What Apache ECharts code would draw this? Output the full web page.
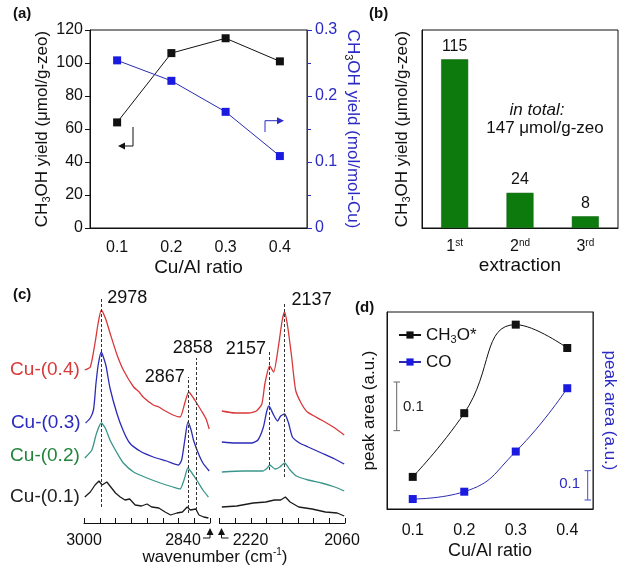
<!DOCTYPE html>
<html>
<head>
<meta charset="utf-8">
<script src="https://cdn.jsdelivr.net/npm/echarts@6/dist/echarts.min.js"></script>
<style>
  html, body { margin: 0; padding: 0; background: #fff; }
  #main { width: 619px; height: 567px; }
</style>
</head>
<body>
<div id="main"></div>
<script>
// (a) yield vs Cu/Al ratio
const ratios = ['0.1', '0.2', '0.3', '0.4'];
const yieldPerGram = [64, 106, 115, 101];        // µmol/g-zeo (left axis)
const yieldPerCu = [0.254, 0.223, 0.176, 0.109]; // mol/mol-Cu (right axis)

// (b) successive extractions
const extractions = ['1st', '2nd', '3rd'];
const extractionYield = [115, 24, 8];

// (c) IR spectra, [wavenumber, absorbance (a.u.)]
const redLeft = [[2999,153],[2992,156],[2986,180],[2982,200],[2978,213],[2972,203],[2967,190],[2958,168],[2950,153],[2937,136],[2930,131],[2925,126],[2912,118],[2905,116],[2899,113],[2887,108],[2878,106],[2872,120],[2867,131],[2861,125],[2857,120],[2850,111],[2845,104],[2841,94]];
const blueLeft = [[2998,100],[2992,105],[2988,113],[2986,128],[2985,138],[2982,158],[2978,171],[2975,165],[2972,157],[2967,135],[2958,109],[2950,92],[2942,80],[2929,72],[2912,66],[2895,62],[2880,58],[2876,63],[2872,83],[2868,101],[2864,93],[2861,83],[2855,70],[2849,60],[2841,52]];
const tealLeft = [[2999,65],[2990,73],[2984,90],[2978,100],[2973,95],[2967,83],[2958,70],[2950,60],[2937,51],[2920,45],[2903,40],[2887,36],[2878,34],[2873,43],[2868,55],[2863,50],[2857,43],[2849,33],[2842,26]];
const blackLeft = [[2999,26],[2992,31],[2986,38],[2981,42],[2977,38],[2971,41],[2966,36],[2960,30],[2954,26],[2948,23],[2942,24],[2935,18],[2927,17],[2920,19],[2914,16],[2905,15],[2897,11],[2890,8],[2882,10],[2875,11],[2869,16],[2865,13],[2858,14],[2854,8],[2848,6],[2842,5]];
const redRight = [[2217,112],[2200,110],[2183,110],[2173,112],[2166,119],[2162,140],[2156,157],[2151,151],[2145,176],[2140,203],[2137,211],[2133,196],[2128,166],[2123,133],[2116,120],[2108,111],[2090,103],[2073,95],[2061,88]];
const blueRight = [[2217,81],[2200,80],[2179,80],[2171,83],[2164,96],[2160,111],[2157,117],[2151,108],[2146,102],[2142,107],[2137,109],[2132,100],[2127,86],[2118,80],[2107,76],[2090,70],[2073,64],[2061,59]];
const tealRight = [[2217,51],[2190,52],[2165,52],[2159,55],[2156,58],[2149,54],[2143,56],[2137,60],[2130,53],[2122,47],[2107,43],[2090,40],[2073,36],[2061,32]];
const blackRight = [[2217,16],[2198,17],[2177,20],[2161,21],[2150,23],[2142,23],[2136,26],[2130,21],[2119,16],[2102,14],[2085,11],[2070,10],[2061,7]];
const sampleNames = ['Cu-(0.4)', 'Cu-(0.3)', 'Cu-(0.2)', 'Cu-(0.1)'];
const peaksLeft = [2978, 2867, 2858];
const peaksRight = [2157, 2137];
const wnTicksLeft = [3000, 2840];
const wnTicksRight = [2220, 2060];

// (d) peak areas
const ch3oArea = [0.066, 0.197, 0.379, 0.331];
const coArea = [0.034, 0.059, 0.196, 0.412];

const FONT = '"Liberation Sans", Arial, sans-serif';
const BLUE = '#2a2ac4';
const colors = ['#d8383a', '#2b2bb8', '#3a968a', '#1c1c1c'];
const labelColors = ['#d83a3a', '#2a2ac0', '#23843c', '#222'];
const sub = { s: { fontSize: 11, verticalAlign: 'bottom', lineHeight: 20, padding: [0, 0, 0, 0] } };

// spectra panel boxes
const cGrids = [{ left: 84, width: 126, min: 2840, max: 3000 }, { left: 219.5, width: 125.5, min: 2060, max: 2220 }];

var chart = echarts.init(document.getElementById('main'));

function spec(data, xi, color, smooth) {
  return {
    type: 'line', xAxisIndex: xi, yAxisIndex: xi + 1, data: data,
    showSymbol: false, smooth: smooth, silent: true,
    lineStyle: { color: color, width: 1.3 }
  };
}

// dashed peak markers, ends in absorbance units
const peakLines = { 2978: [16, 225], 2867: [10, 146], 2858: [13, 165], 2157: [53, 173], 2137: [46, 220] };
function dashes(peaks) {
  return {
    silent: true, symbol: ['none', 'none'], label: { show: false },
    lineStyle: { type: [3, 2], color: '#333', width: 1 },
    data: peaks.map(p => [{ coord: [p, peakLines[p][0]] }, { coord: [p, peakLines[p][1]] }])
  };
}

const blackL = spec(blackLeft, 2, colors[3], false);
blackL.markLine = dashes(peaksLeft);
const blackR = spec(blackRight, 3, colors[3], false);
blackR.markLine = dashes(peaksRight);

function wnAxis(gi, c) {
  return {
    gridIndex: gi, type: 'value', inverse: true, min: c.min, max: c.max, interval: 20,
    axisLine: { lineStyle: { color: '#111' } },
    axisTick: { inside: true, length: 5, lineStyle: { color: '#111' } },
    splitLine: { show: false }, axisLabel: { show: false }
  };
}

var option = {
  animation: false,
  textStyle: { fontFamily: FONT, color: '#111' },
  grid: [
    { left: 90, top: 30, width: 217, height: 198, show: true, borderColor: '#111', borderWidth: 1 },
    { left: 422, top: 30, width: 196, height: 198, show: true, borderColor: '#111', borderWidth: 1 },
    { left: cGrids[0].left, top: 296, width: cGrids[0].width, height: 227 },
    { left: cGrids[1].left, top: 296, width: cGrids[1].width, height: 227 },
    { left: 387, top: 312, width: 212, height: 197, show: true, borderColor: '#111', borderWidth: 1 }
  ],
  xAxis: [
    {
      gridIndex: 0, type: 'category', data: ratios,
      axisLine: { lineStyle: { color: '#111' } }, axisTick: { show: false },
      axisLabel: { fontSize: 16, margin: 12, color: '#111' },
      name: 'Cu/Al ratio', nameLocation: 'middle', nameGap: 30,
      nameTextStyle: { fontSize: 19, color: '#111' }
    },
    {
      gridIndex: 1, type: 'category', data: extractions,
      axisLine: { lineStyle: { color: '#111' } }, axisTick: { show: false },
      axisLabel: {
        interval: 0, margin: 10, color: '#111',
        formatter: v => '{n|' + v.charAt(0) + '}{p|' + v.slice(1) + '}',
        rich: { n: { fontSize: 16, lineHeight: 18 }, p: { fontSize: 10, verticalAlign: 'top', lineHeight: 18 } }
      },
      name: 'extraction', nameLocation: 'middle', nameGap: 27,
      nameTextStyle: { fontSize: 19, color: '#111' }
    },
    wnAxis(2, cGrids[0]),
    wnAxis(3, cGrids[1]),
    {
      gridIndex: 4, type: 'category', data: ratios,
      axisLine: { lineStyle: { color: '#111' } }, axisTick: { show: false },
      axisLabel: { fontSize: 16, margin: 14, color: '#111' },
      name: 'Cu/Al ratio', nameLocation: 'middle', nameGap: 33,
      nameTextStyle: { fontSize: 18, color: '#111' }
    }
  ],
  yAxis: [
    {
      gridIndex: 0, type: 'value', min: 0, max: 120, interval: 20,
      axisLine: { show: true, lineStyle: { color: '#111' } },
      axisTick: { show: true, length: 5, lineStyle: { color: '#111' } },
      splitLine: { show: false },
      axisLabel: { fontSize: 16, margin: 7, color: '#111' },
      name: 'CH{s|3}OH yield (μmol/g-zeo)', nameLocation: 'middle', nameGap: 28,
      nameTextStyle: { fontSize: 17, color: '#111', lineHeight: 20, rich: sub }
    },
    {
      gridIndex: 0, type: 'value', position: 'right', min: 0, max: 0.3, interval: 0.1,
      axisLine: { show: true, lineStyle: { color: BLUE } },
      axisTick: { show: true, length: 5, lineStyle: { color: BLUE } },
      minorTick: { show: true, splitNumber: 2, length: 4, lineStyle: { color: BLUE } },
      splitLine: { show: false },
      axisLabel: { fontSize: 16, margin: 8, color: BLUE },
      name: 'CH{s|3}OH yield (mol/mol-Cu)', nameLocation: 'middle', nameGap: 36, nameRotate: -90,
      nameTextStyle: { fontSize: 17, color: BLUE, lineHeight: 20, rich: sub }
    },
    {
      gridIndex: 1, type: 'value', min: 0, max: 135,
      axisLine: { show: true, lineStyle: { color: '#111' } },
      axisTick: { show: false }, axisLabel: { show: false }, splitLine: { show: false },
      name: 'CH{s|3}OH yield (μmol/g-zeo)', nameLocation: 'middle', nameGap: 10,
      nameTextStyle: { fontSize: 17, color: '#111', lineHeight: 20, rich: sub }
    },
    { gridIndex: 2, type: 'value', min: 0, max: 227, show: false },
    { gridIndex: 3, type: 'value', min: 0, max: 227, show: false },
    {
      gridIndex: 4, type: 'value', min: 0, max: 0.405,
      axisLine: { show: true, lineStyle: { color: '#111' } },
      axisTick: { show: false }, axisLabel: { show: false }, splitLine: { show: false },
      name: 'peak area (a.u.)', nameLocation: 'middle', nameGap: 9,
      nameTextStyle: { fontSize: 17, color: '#111' }
    },
    {
      gridIndex: 4, type: 'value', position: 'right', min: 0, max: 0.672,
      axisLine: { show: true, lineStyle: { color: BLUE } },
      axisTick: { show: false }, axisLabel: { show: false }, splitLine: { show: false },
      name: 'peak area (a.u.)', nameLocation: 'middle', nameGap: 8, nameRotate: -90,
      nameTextStyle: { fontSize: 17, color: BLUE }
    }
  ],
  legend: {
    left: 393, top: 320, orient: 'vertical', itemGap: 7, itemWidth: 22, itemHeight: 9,
    data: ['CH3O*', 'CO'],
    formatter: n => n === 'CH3O*' ? 'CH{s|3}O*' : n,
    textStyle: { fontSize: 17, color: '#111', lineHeight: 20, rich: sub }
  },
  series: [
    {
      type: 'line', xAxisIndex: 0, yAxisIndex: 0, data: yieldPerGram,
      symbol: 'rect', symbolSize: 8, itemStyle: { color: '#111' },
      lineStyle: { color: '#111', width: 1 }
    },
    {
      type: 'line', xAxisIndex: 0, yAxisIndex: 1, data: yieldPerCu,
      symbol: 'rect', symbolSize: 8, itemStyle: { color: '#1a1ae0' },
      lineStyle: { color: '#2a2ab0', width: 1 }
    },
    {
      type: 'bar', xAxisIndex: 1, yAxisIndex: 2, data: extractionYield, barWidth: 27,
      itemStyle: { color: '#0c7a0c', borderColor: '#0a5c0a', borderWidth: 0.5 },
      label: { show: true, position: 'top', distance: 5, fontSize: 16, color: '#111' }
    },
    spec(redLeft, 2, colors[0], 0.2),
    spec(blueLeft, 2, colors[1], 0.2),
    spec(tealLeft, 2, colors[2], 0.2),
    blackL,
    spec(redRight, 3, colors[0], 0.2),
    spec(blueRight, 3, colors[1], 0.2),
    spec(tealRight, 3, colors[2], 0.2),
    blackR,
    {
      name: 'CH3O*', type: 'line', xAxisIndex: 4, yAxisIndex: 5, data: ch3oArea, smooth: 0.5,
      symbol: 'rect', symbolSize: 8, itemStyle: { color: '#111' }, lineStyle: { color: '#111', width: 1 }
    },
    {
      name: 'CO', type: 'line', xAxisIndex: 4, yAxisIndex: 6, data: coArea, smooth: 0.5,
      symbol: 'rect', symbolSize: 8, itemStyle: { color: '#1a1ae0' }, lineStyle: { color: '#2a2ab0', width: 1 }
    }
  ]
};
chart.setOption(option);

// annotations placed after layout
var g = [];
function txt(x, y, text, o) {
  o = o || {};
  g.push({
    type: 'text', silent: true, x: x, y: y,
    style: {
      x: 0, y: 0, text: text, fill: o.color || '#111',
      font: (o.italic ? 'italic ' : '') + (o.bold ? 'bold ' : '') + (o.size || 16) + 'px ' + FONT,
      textAlign: o.align || 'left', align: o.align || 'left',
      textVerticalAlign: o.va || 'middle', verticalAlign: o.va || 'middle'
    }
  });
}
function line(points, color, w) {
  g.push({ type: 'polyline', silent: true, shape: { points: points }, style: { stroke: color, lineWidth: w || 1, fill: null } });
}
function tri(points, color) {
  g.push({ type: 'polygon', silent: true, shape: { points: points }, style: { fill: color } });
}

// panel letters
txt(13, 14, '(a)', { bold: true, size: 15 });
txt(369, 14, '(b)', { bold: true, size: 15 });
txt(13, 295, '(c)', { bold: true, size: 15 });
txt(355, 308, '(d)', { bold: true, size: 15 });

// (a) axis arrows
line([[133, 127], [133, 146], [124, 146]], '#111');
tri([[118, 146], [125, 142.5], [125, 149.5]], '#111');
line([[265, 132], [265, 120.7], [277, 120.7]], BLUE);
tri([[284, 120.7], [277, 117.2], [277, 124.2]], BLUE);

// (b) total
txt(537, 110, 'in total:', { italic: true, size: 17, align: 'center' });
txt(545, 128, '147 μmol/g-zeo', { size: 17, align: 'center' });

// (c) sample names at the start of each spectrum
[redLeft, blueLeft, tealLeft, blackLeft].forEach(function (d, i) {
  var p = chart.convertToPixel({ gridIndex: 2 }, d[0]);
  txt(p[0] - 5, p[1] + (i === 2 ? -2 : 0), sampleNames[i], { size: 19, align: 'right', color: labelColors[i] });
});
// (c) peak labels next to the dashed markers
const peakText = {
  2978: { dx: 6, dy: 0, align: 'left', va: 'middle' },
  2867: { dx: -4, dy: 0, align: 'right', va: 'middle' },
  2858: { dx: -3, dy: -1, align: 'center', va: 'bottom' },
  2157: { dx: -3, dy: -1, align: 'right', va: 'middle' },
  2137: { dx: 7, dy: -3, align: 'left', va: 'middle' }
};
peaksLeft.concat(peaksRight).forEach(function (p) {
  var gi = p > 2500 ? 2 : 3;
  var px = chart.convertToPixel({ gridIndex: gi }, [p, peakLines[p][1]]);
  var s = peakText[p];
  txt(px[0] + s.dx, px[1] + s.dy, String(p), { size: 18, align: s.align, va: s.va });
});
// (c) wavenumber tick labels, placed along each inverted axis (ends nudged away from the break)
const tickShift = { 3000: 0, 2840: -27, 2220: 31, 2060: -3 };
function wnX(c, v) { return c.left + (c.max - v) / (c.max - c.min) * c.width; }
wnTicksLeft.forEach(function (v) {
  txt(wnX(cGrids[0], v) + tickShift[v], 541, String(v), { size: 16, align: 'center' });
});
wnTicksRight.forEach(function (v) {
  txt(wnX(cGrids[1], v) + tickShift[v], 541, String(v), { size: 16, align: 'center' });
});
// (c) axis break marks and title
tri([[210, 528], [206.5, 535], [213.5, 535]], '#111');
line([[210, 535], [210, 538], [203, 538]], '#111');
tri([[221.5, 528], [218, 535], [225, 535]], '#111');
line([[221.5, 535], [221.5, 538], [228.5, 538]], '#111');
g.push({
  type: 'text', silent: true, x: 215, y: 557,
  style: {
    x: 0, y: 0, text: 'wavenumber (cm{p|-1})', fill: '#111', fontSize: 17, fontFamily: FONT,
    align: 'center', verticalAlign: 'middle', textAlign: 'center', textVerticalAlign: 'middle',
    rich: { p: { fontSize: 10, verticalAlign: 'top', lineHeight: 20 } }
  }
});

// (d) scale bars of 0.1 on each axis
var l0 = chart.convertToPixel({ yAxisIndex: 5 }, 0), l1 = chart.convertToPixel({ yAxisIndex: 5 }, 0.1);
var hL = l0 - l1;
line([[396.7, 382], [396.7, 382 + hL]], '#666');
line([[393.5, 382], [400, 382]], '#666');
line([[393.5, 382 + hL], [400, 382 + hL]], '#666');
txt(403, 383 + hL / 2, '0.1', { size: 15, color: '#222' });
var r0 = chart.convertToPixel({ yAxisIndex: 6 }, 0), r1 = chart.convertToPixel({ yAxisIndex: 6 }, 0.1);
var hR = r0 - r1;
line([[587.7, 500 - hR], [587.7, 500]], '#4a4ac8');
line([[584.5, 500 - hR], [591, 500 - hR]], '#4a4ac8');
line([[584.5, 500], [591, 500]], '#4a4ac8');
txt(580, 484, '0.1', { size: 15, color: BLUE, align: 'right' });

chart.setOption({ graphic: g });
</script>
</body>
</html>
